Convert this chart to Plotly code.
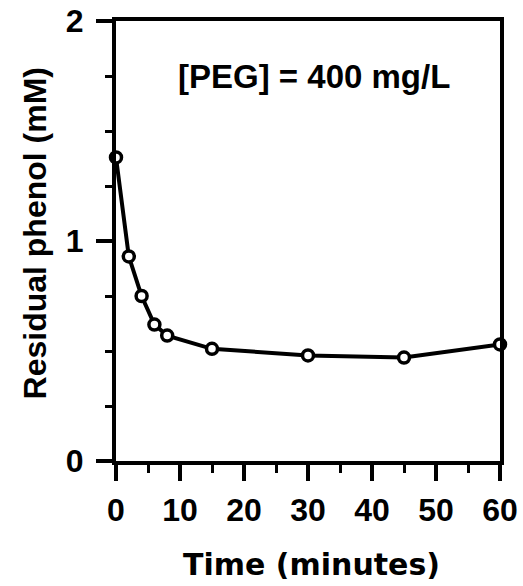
import plotly.graph_objects as go

# Residual phenol over time at a fixed PEG dose
time_min = [0, 2, 4, 6, 8, 15, 30, 45, 60]
phenol_mM = [1.38, 0.93, 0.75, 0.62, 0.57, 0.51, 0.48, 0.47, 0.53]

x_ticks = [0, 10, 20, 30, 40, 50, 60]
y_ticks = [0, 1, 2]

FONT = "Liberation Sans, Arial, sans-serif"

fig = go.Figure()
fig.add_trace(go.Scatter(
    x=time_min, y=phenol_mM,
    mode="lines+markers",
    line=dict(color="black", width=4),
    marker=dict(symbol="circle", size=11, color="white",
                line=dict(color="black", width=3.5)),
    cliponaxis=False,
    showlegend=False,
))

axis_common = dict(
    showline=True, linecolor="black", linewidth=4, mirror=True,
    ticks="outside", tickcolor="black", tickwidth=3.5,
    showgrid=False, zeroline=False, automargin=False,
    tickfont=dict(family=FONT, size=32, color="black", weight="bold"),
)

fig.update_xaxes(
    range=[0, 60], tickvals=x_ticks, ticklen=16,
    minor=dict(dtick=5, ticklen=8, tickwidth=3, tickcolor="black", ticks="outside"),
    ticklabelstandoff=2,
    **axis_common,
)
fig.update_yaxes(
    range=[0, 2], tickvals=y_ticks, ticklen=16,
    minor=dict(dtick=0.25, ticklen=7, tickwidth=3, tickcolor="black", ticks="outside"),
    ticklabelstandoff=6,
    **axis_common,
)

# Axis titles placed as annotations for exact positioning
fig.add_annotation(
    x=0.51, y=-0.236, xref="paper", yref="paper",
    xanchor="center", yanchor="middle",
    text="Time (minutes)", showarrow=False,
    font=dict(family="DejaVu Sans, sans-serif", size=30, color="black", weight="bold"),
)
fig.add_annotation(
    x=-0.21, y=0.518, xref="paper", yref="paper",
    xanchor="center", yanchor="middle", textangle=-90,
    text="Residual phenol (mM)", showarrow=False,
    font=dict(family=FONT, size=32, color="black", weight="bold"),
)

fig.add_annotation(
    x=31, y=1.75, xref="x", yref="y",
    text="[PEG] = 400 mg/L", showarrow=False,
    font=dict(family=FONT, size=33, color="black", weight="bold"),
)

fig.update_layout(
    width=523, height=586,
    margin=dict(l=116, r=23, t=21, b=125),
    plot_bgcolor="white", paper_bgcolor="white",
)

fig.write_html("out.html")
